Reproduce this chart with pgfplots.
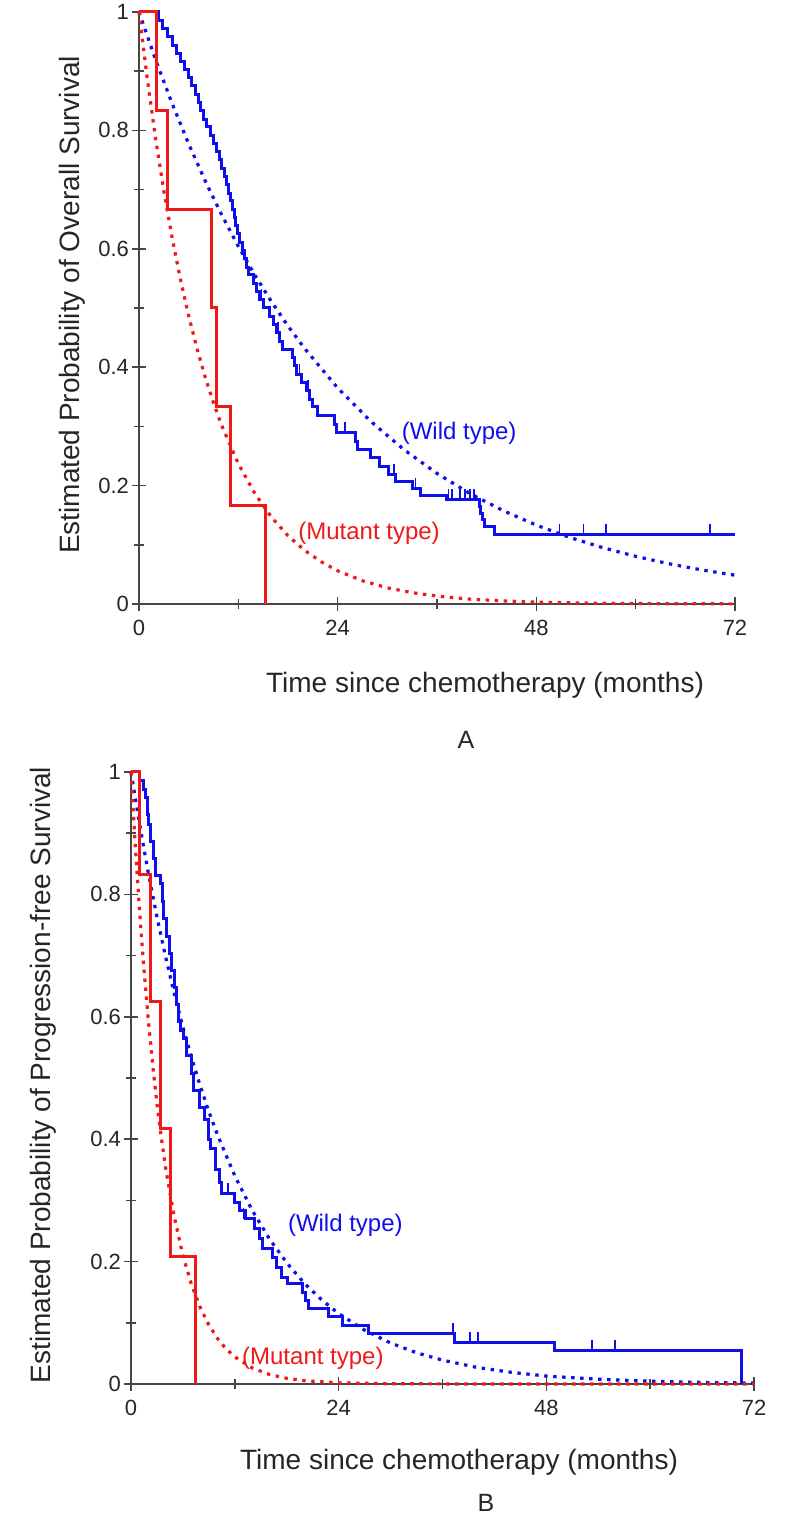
\documentclass[border=0pt]{standalone}
\usepackage{pgfplots}
\pgfplotsset{compat=1.18}
\usepackage{fontspec}
\setmainfont{Liberation Sans}
\definecolor{kmblue}{RGB}{15,15,235}
\definecolor{kmred}{RGB}{240,25,25}
\definecolor{axgray}{RGB}{70,70,70}
\begin{document}
\begin{tikzpicture}
\useasboundingbox[fill=white] (0,0) rectangle (400pt,764.5pt);
\pgfplotsset{kmaxis/.style={scale only axis, axis lines*=left,
  xmin=0, xmax=72, ymin=0, ymax=1, clip=false,
  xtick={0,24,48,72}, xticklabels={0,24,48,72}, minor xtick={12,36,60},
  ytick={0,0.2,0.4,0.6,0.8,1}, yticklabels={0,0.2,0.4,0.6,0.8,1},
  minor ytick={0.1,0.3,0.5,0.7,0.9},
  tick align=center, major tick length=7pt, minor tick length=5pt,
  axis line style={axgray, line width=1pt},
  tick style={axgray, line width=0.8pt},
  ticklabel style={font=\fontsize{11}{13}\selectfont, text=black!85},
  xticklabel style={yshift=-1pt},
  yticklabel style={xshift=2pt},
  km/.style={line width=1.5pt, const plot},
  fit/.style={line width=1.6pt, dash pattern=on 1.7pt off 2.8pt},
  cens/.style={only marks, mark=|, mark size=2.6pt, mark options={yshift=2.6pt, line width=0.9pt}},
}}
% ---------------- Panel A ----------------
\begin{axis}[kmaxis, at={(69.5pt,462.5pt)}, anchor=south west, width=298pt, height=296pt]
\addplot[kmblue, fit] coordinates {(0,1) (2,0.9194) (4,0.8454) (6,0.7772) (8,0.7146) (10,0.6570) (12,0.6041) (14,0.5554) (16,0.5107) (18,0.4695) (20,0.4317) (24,0.3649) (28,0.3085) (32,0.2608) (36,0.2205) (40,0.1864) (44,0.1576) (48,0.1332) (52,0.1126) (56,0.0952) (60,0.0805) (64,0.0680) (68,0.0575) (72,0.0486)};
\addplot[kmred, fit] coordinates {(0,1) (1,0.8869) (2,0.7866) (3,0.6977) (4,0.6188) (5,0.5488) (6,0.4868) (7,0.4317) (8,0.3829) (9,0.3396) (10,0.3012) (12,0.2369) (14,0.1864) (16,0.1466) (18,0.1153) (20,0.0907) (22,0.0714) (24,0.0561) (27,0.0392) (30,0.0273) (33,0.0191) (36,0.0133) (40,0.0082) (44,0.0051) (48,0.0032) (54,0.0015) (60,0.0007) (66,0.0004) (72,0.0002)};
\addplot[kmblue, km] coordinates {(0,1) (2.3,0.986) (2.8,0.972) (3.4,0.958) (4.0,0.944) (4.5,0.930) (5.0,0.917) (5.5,0.903) (6.0,0.889) (6.3,0.875) (6.8,0.861) (7.2,0.847) (7.4,0.833) (7.8,0.819) (8.1,0.806) (8.6,0.792) (9.0,0.778) (9.4,0.764) (9.7,0.750) (10.0,0.736) (10.3,0.722) (10.6,0.708) (10.8,0.694) (11.0,0.681) (11.3,0.667) (11.5,0.653) (11.7,0.639) (11.9,0.625) (12.2,0.611) (12.5,0.597) (12.8,0.583) (13.0,0.569) (13.2,0.556) (13.8,0.542) (14.2,0.528) (14.6,0.514) (15.0,0.500) (15.8,0.486) (16.2,0.472) (16.6,0.458) (17.0,0.444) (17.3,0.430) (18.6,0.416) (18.8,0.402) (19.0,0.388) (19.6,0.374) (20.2,0.360) (20.6,0.346) (21.0,0.333) (21.6,0.319) (23.6,0.304) (23.8,0.290) (26.2,0.275) (26.4,0.261) (28.0,0.247) (29.0,0.233) (30.2,0.219) (31.0,0.207) (33.0,0.195) (34.0,0.184) (37.2,0.176) (41.1,0.165) (41.3,0.153) (41.5,0.142) (41.7,0.131) (43.0,0.118) (72,0.118)};
\addplot[kmblue, cens] coordinates {(14.8,0.514) (16.8,0.458) (19.4,0.388) (20.4,0.360) (24.9,0.290) (30.8,0.219) (33.4,0.195) (37.4,0.176) (37.8,0.176) (38.8,0.176) (39.4,0.176) (40.0,0.176) (40.5,0.176) (50.8,0.118) (53.7,0.118) (56.4,0.118) (69.0,0.118)};
\addplot[kmred, km] coordinates {(0,1) (2.1,0.833) (3.5,0.667) (8.8,0.5) (9.4,0.333) (11.0,0.167) (15.3,0)};
\node[kmblue, anchor=west, font=\fontsize{12}{14}\selectfont, inner sep=0pt] at (axis cs:31.7,0.289) {(Wild type)};
\node[kmred, anchor=west, font=\fontsize{12}{14}\selectfont, inner sep=0pt] at (axis cs:19.2,0.12) {(Mutant type)};
\end{axis}
% ---------------- Panel B ----------------
\begin{axis}[kmaxis, at={(65.5pt,72.5pt)}, anchor=south west, width=311.5pt, height=306pt]
\addplot[kmblue, fit] coordinates {(0,1) (1,0.914) (2,0.835) (3,0.763) (4,0.698) (5,0.638) (6,0.583) (7,0.533) (8,0.487) (9,0.445) (10,0.407) (12,0.340) (14,0.284) (16,0.237) (18,0.198) (20,0.165) (22,0.138) (24,0.115) (27,0.088) (30,0.067) (33,0.051) (36,0.039) (40,0.027) (44,0.019) (48,0.013) (54,0.0078) (60,0.0045) (66,0.0026) (72,0.0015)};
\addplot[kmred, fit] coordinates {(0,1) (0.5,0.878) (1,0.771) (1.5,0.677) (2,0.595) (2.5,0.522) (3,0.458) (3.5,0.403) (4,0.353) (5,0.273) (6,0.210) (7,0.162) (8,0.125) (9,0.0963) (10,0.0743) (11,0.0573) (12,0.0442) (14,0.0263) (16,0.0156) (18,0.0093) (20,0.0055) (24,0.0019) (30,0.0004) (40,0) (72,0)};
\addplot[kmblue, km] coordinates {(0,1) (1.0,0.986) (1.4,0.972) (1.7,0.958) (1.9,0.930) (2.0,0.915) (2.3,0.887) (2.6,0.859) (2.8,0.831) (3.4,0.817) (3.6,0.789) (3.8,0.761) (4.1,0.732) (4.4,0.704) (4.7,0.676) (5.0,0.648) (5.3,0.620) (5.5,0.592) (5.7,0.578) (6.1,0.564) (6.4,0.536) (7.0,0.507) (7.2,0.479) (7.9,0.451) (8.5,0.432) (8.9,0.400) (9.2,0.384) (9.8,0.351) (10.2,0.330) (10.5,0.311) (12.0,0.297) (12.5,0.283) (13.2,0.270) (14.3,0.254) (14.8,0.238) (15.2,0.222) (16.4,0.206) (16.8,0.190) (17.4,0.174) (18.1,0.165) (19.8,0.150) (20.2,0.136) (20.5,0.124) (22.8,0.110) (24.5,0.096) (27.4,0.082) (37.4,0.068) (49.0,0.055) (70.5,0)};
\addplot[kmblue, cens] coordinates {(11.2,0.311) (13.0,0.270) (37.2,0.082) (39.2,0.068) (40.1,0.068) (53.3,0.055) (55.9,0.055)};
\addplot[kmred, km] coordinates {(0,1) (1.0,0.833) (2.2,0.625) (3.4,0.417) (4.6,0.208) (7.4,0)};
\node[kmblue, anchor=west, font=\fontsize{12}{14}\selectfont, inner sep=0pt] at (axis cs:18.1,0.26) {(Wild type)};
\node[kmred, anchor=west, font=\fontsize{12}{14}\selectfont, inner sep=0pt] at (axis cs:12.8,0.042) {(Mutant type)};
\end{axis}
% ---------------- labels ----------------
\node[font=\fontsize{14}{16}\selectfont, text=black!85] at (242.5pt,422pt) {Time since chemotherapy (months)};
\node[font=\fontsize{12.5}{14}\selectfont, text=black!85] at (233pt,394.5pt) {A};
\node[font=\fontsize{14}{16}\selectfont, text=black!85, rotate=90] at (36pt,612pt) {Estimated Probability of Overall Survival};
\node[font=\fontsize{14}{16}\selectfont, text=black!85] at (229.5pt,33.5pt) {Time since chemotherapy (months)};
\node[font=\fontsize{12.5}{14}\selectfont, text=black!85] at (243pt,13pt) {B};
\node[font=\fontsize{14}{16}\selectfont, text=black!85, rotate=90] at (21.5pt,227pt) {Estimated Probability of Progression-free Survival};
\end{tikzpicture}
\end{document}
